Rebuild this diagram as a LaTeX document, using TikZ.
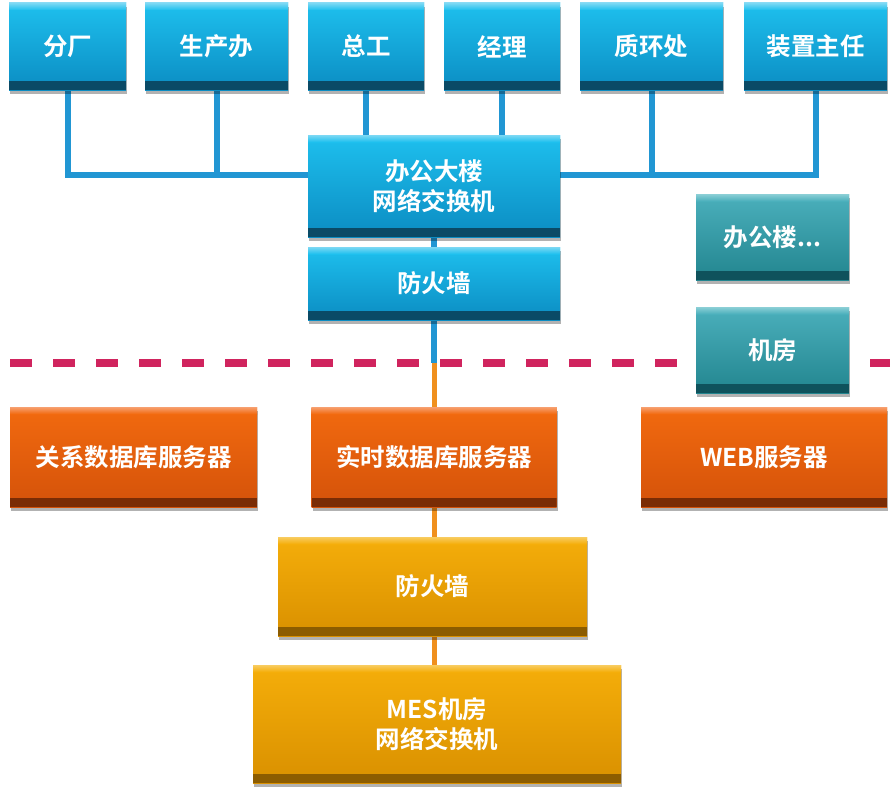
\documentclass[tikz,border=0pt]{standalone}
\usepackage{fontspec}
\setmainfont{Noto Sans CJK SC}[BoldFont={* Bold}]
\usetikzlibrary{shadows,backgrounds}
\definecolor{bTop}{HTML}{1EC0EE}
\definecolor{bBot}{HTML}{0B8CC2}
\definecolor{bBand}{HTML}{0A4A66}
\definecolor{bHi}{HTML}{7CD8F4}
\definecolor{tTop}{HTML}{4BB0BC}
\definecolor{tBot}{HTML}{22858F}
\definecolor{tBand}{HTML}{0F525C}
\definecolor{tHi}{HTML}{8CCFD6}
\definecolor{oTop}{HTML}{F26A0F}
\definecolor{oBot}{HTML}{D4520A}
\definecolor{oBand}{HTML}{7A2C05}
\definecolor{oHi}{HTML}{F7A070}
\definecolor{gTop}{HTML}{F5AE0A}
\definecolor{gBot}{HTML}{D99000}
\definecolor{gBand}{HTML}{8C5C00}
\definecolor{gHi}{HTML}{F8CC60}
\definecolor{lineBlue}{HTML}{2196D3}
\definecolor{lineOrange}{HTML}{F0901E}
\definecolor{cutRed}{HTML}{D0245E}
\tikzset{
  box/.style n args={4}{rectangle, inner sep=0pt, text=white, align=center,
    font=\bfseries\fontsize{24.5}{30}\selectfont,
    top color=#1, bottom color=#2,
    drop shadow={shadow xshift=1pt, shadow yshift=-4pt, opacity=.3, fill=black},
    path picture={
      \fill[#3] (path picture bounding box.south west) rectangle ([yshift=9pt]path picture bounding box.south east);
      \shade[top color=#4, bottom color=#1] (path picture bounding box.north west) rectangle ([yshift=-7pt]path picture bounding box.north east);
    }},
  bluebox/.style={box={bTop}{bBot}{bBand}{bHi}},
  tealbox/.style={box={tTop}{tBot}{tBand}{tHi}},
  orangebox/.style={box={oTop}{oBot}{oBand}{oHi}},
  goldbox/.style={box={gTop}{gBot}{gBand}{gHi}},
  bluelink/.style={draw=lineBlue, line width=6pt},
  orangelink/.style={draw=lineOrange, line width=5pt},
  cutline/.style={draw=cutRed, line width=8pt, dash pattern=on 22pt off 21pt}
}
\begin{document}
\begin{tikzpicture}[x=1pt, y=-1pt]
\useasboundingbox (0,0) rectangle (896,800);
% top row
\node[bluebox, minimum width=117pt, minimum height=87pt] (fc) at (67.5,46.5) {分厂};
\node[bluebox, minimum width=143pt, minimum height=87pt] (scb) at (216.5,46.5) {生产办};
\node[bluebox, minimum width=116pt, minimum height=87pt] (zg) at (366,46.5) {总工};
\node[bluebox, minimum width=116pt, minimum height=87pt] (jl) at (502,46.5) {经理};
\node[bluebox, minimum width=143pt, minimum height=87pt] (zh) at (651.5,46.5) {质环处};
\node[bluebox, minimum width=143pt, minimum height=87pt] (zz) at (815.5,46.5) {装置主任};
% office switch & firewall
\node[bluebox, minimum width=252pt, minimum height=102pt] (sw) at (434,186) {办公大楼\\网络交换机};
\node[bluebox, minimum width=252pt, minimum height=73pt] (fw1) at (434,283.5) {防火墙};
\coordinate (swL) at ([yshift=11pt]sw.west);
\coordinate (swR) at ([yshift=11pt]sw.east);
% teal
\node[tealbox, minimum width=153pt, minimum height=86pt] (bg) at (772.5,237) {办公楼...};
% dashed cut line
\coordinate (dl) at (10,363);
\coordinate (dr) at (890,363);
\coordinate (cut) at (434,363);
\begin{pgfonlayer}{background}
\path[cutline] (dl) -- (dr);
\end{pgfonlayer}
\node[tealbox, minimum width=153pt, minimum height=86pt] (jf) at (772.5,350) {机房};
% orange row
\node[orangebox, minimum width=247pt, minimum height=100pt] (gx) at (133.5,457) {关系数据库服务器};
\node[orangebox, minimum width=245pt, minimum height=100pt] (ss) at (434,457) {实时数据库服务器};
\node[orangebox, minimum width=246pt, minimum height=100pt] (web) at (764,457) {WEB服务器};
% gold
\node[goldbox, minimum width=309pt, minimum height=99pt] (fw2) at (432.5,586.5) {防火墙};
\node[goldbox, minimum width=368pt, minimum height=118pt] (mes) at (437,724) {MES机房\\网络交换机};
% connectors
\begin{pgfonlayer}{background}
\path[bluelink] (fc.south) |- (swL);
\path[bluelink] (scb.south) -- (scb.south |- swL);
\path[bluelink] (zz.south) |- (swR);
\path[bluelink] (zh.south) -- (zh.south |- swR);
\path[bluelink] (zg.south) -- (zg.south |- sw.north);
\path[bluelink] (jl.south) -- (jl.south |- sw.north);
\path[bluelink] (sw.south) -- (fw1.north);
\path[orangelink] (cut) -- (ss.north);
\path[bluelink] (fw1.south) -- (cut);
\path[orangelink] (ss.south) -- (ss.south |- fw2.north);
\path[orangelink] (fw2.south -| ss.south) -- (ss.south |- mes.north);
\end{pgfonlayer}
\end{tikzpicture}
\end{document}
